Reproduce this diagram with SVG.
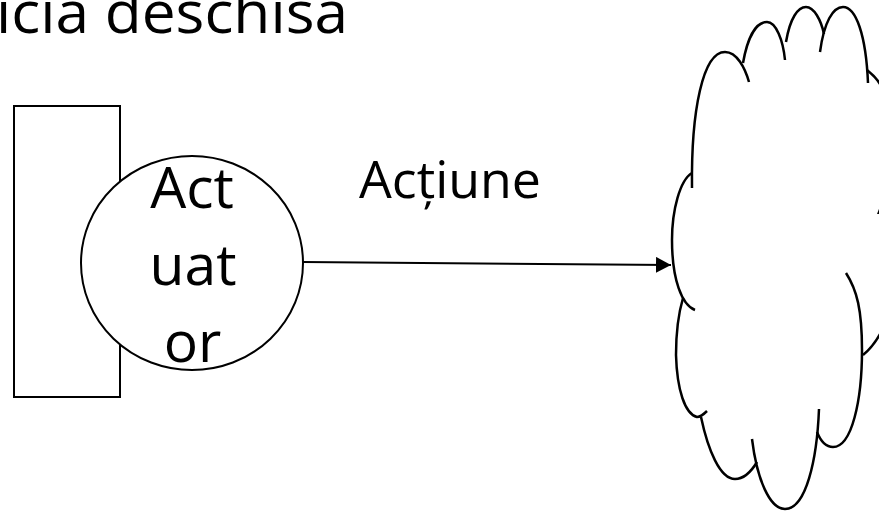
<svg xmlns="http://www.w3.org/2000/svg" width="879" height="513" viewBox="0 0 879 513">
<defs>
<style>
.t{font-family:"Open Sans","Noto Sans","Liberation Sans",sans-serif;fill:#000}
.s{fill:none;stroke:#000;stroke-width:2}
.c{fill:none;stroke:#000;stroke-width:2.5;stroke-linecap:butt}
</style>
<marker id="ah" markerWidth="16" markerHeight="16" refX="15" refY="8" orient="auto" markerUnits="userSpaceOnUse">
<path d="M0,0 L15,8 L0,16 Z" fill="#000"/>
</marker>
</defs>
<rect width="879" height="513" fill="#fff"/>
<text class="t" x="-4" y="33" font-size="58" textLength="352" lengthAdjust="spacingAndGlyphs">icia deschisa</text>
<g id="rect-node"><rect class="s" x="14" y="106" width="106" height="291" fill="#fff"/></g>
<g id="actuator">
<ellipse cx="192" cy="263" rx="111" ry="107" fill="#fff" stroke="#000" stroke-width="2"/>
<text class="t" font-size="57" text-anchor="middle"><tspan x="192" y="208">Act</tspan><tspan x="193" y="285">uat</tspan><tspan x="192.5" y="362">or</tspan></text>
</g>
<g id="connectors">
<path class="s" d="M303,262 L671,265" marker-end="url(#ah)"/>
<text class="t" x="359" y="198" font-size="52" textLength="182" lengthAdjust="spacingAndGlyphs">Acțiune</text>
</g>
<g id="cloud">
<path class="c" d="M692,188 C691,110 703,52 725,52 C737,52 745,68 749,82"/>
<path class="c" d="M743,63 C748,35 757,22 767,22 C776,22 783,40 785,60"/>
<path class="c" d="M786,42 C790,18 798,7 806,7 C814,7 821,20 824,34"/>
<path class="c" d="M820,52 C824,22 833,7 843,7 C856,7 866,35 868,83"/>
<path class="c" d="M867,70 C872,74 877,79 880,84"/>
<path class="c" d="M692,173 C680,180 672,210 672,240 C672,280 682,305 695,310"/>
<path class="c" d="M683,298 C678,315 676,335 676,355 C677,390 685,414 697,417 C700,417 704,414 707,411"/>
<path class="c" d="M701,417 C708,450 720,479 735,479 C744,479 751,472 757,462"/>
<path class="c" d="M752,439 C757,480 770,509 785,509 C806,509 817,460 819,409"/>
<path class="c" d="M817,432 C821,442 826,447 833,447 C852,447 862,400 862,350 C862,310 857,290 846,273"/>
<path class="c" d="M863,355 C869,350 875,343 880,334"/>
</g>
<text class="t" x="877" y="214" font-size="54">A</text>
</svg>
